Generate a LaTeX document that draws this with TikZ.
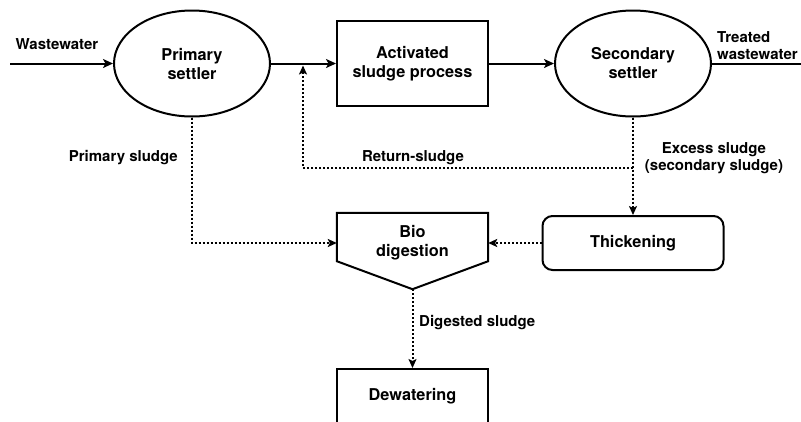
\documentclass[tikz,border=0pt]{standalone}
\usepackage{fontspec}
\setmainfont{TeX Gyre Heros}
\usetikzlibrary{shapes.geometric,arrows.meta,calc}
\begin{document}
\begin{tikzpicture}[x=1pt,y=-1pt,
  font=\bfseries\fontsize{16.3}{19}\selectfont,
  proc/.style={draw,line width=2pt,rectangle,minimum width=151pt,minimum height=85pt,align=center,inner sep=0pt},
  settler/.style={draw,line width=2pt,ellipse,minimum width=156pt,minimum height=106pt,align=center,inner sep=0pt},
  rbox/.style={draw,line width=2pt,rounded corners=10pt,minimum width=181pt,minimum height=54pt,align=center,inner sep=0pt},
  flow/.style={line width=2pt,-{Stealth[length=10pt,width=9pt,inset=2.5pt]}},
  sludge/.style={line width=2pt,dotted,-{Stealth[length=9pt,width=8pt,inset=2pt]}},
  lbl/.style={font=\bfseries\fontsize{15}{16.5}\selectfont,align=center,inner sep=0pt}
]
\useasboundingbox (0,0) rectangle (801,421);

\node[settler] (ps) at (192,63.5) {Primary\\settler};
\node[proc] (as) at (412.5,63.5) {Activated\\sludge process};
\node[settler] (ss) at (633,63.5) {Secondary\\settler};
\node[rbox] (th) at (633,243) {Thickening};
\node[minimum width=151pt,minimum height=60pt,inner sep=0pt,align=center] (bio) at (412.5,243) {Bio\\digestion};
\coordinate (biotip) at ($(bio.south)+(0,16)$);
\draw[line width=2pt] (bio.north west) -- (bio.north east) -- ($(bio.south east)+(0,-12)$) -- (biotip) -- ($(bio.south west)+(0,-12)$) -- cycle;
\node[proc,minimum height=54pt,anchor=north] (dw) at (412.5,368) {Dewatering};

\coordinate (win) at (10,63.5);
\coordinate (tout) at (801,63.5);
\coordinate (rs) at (633,168);
\coordinate (rj) at (303,65.5);

\draw[flow] (win) -- (ps.west);
\node[lbl] (lww) at (57,44) {Wastewater};
\draw[flow] (ps.east) -- (as.west);
\draw[flow] (as.east) -- (ss.west);
\draw[line width=2pt] (ss.east) -- (tout);
\node[lbl,align=left,anchor=west] (ltw) at (717,45.5) {Treated\\wastewater};

\draw[sludge] (rs) -| (rj);
\node[lbl] (lrs) at (413,158) {Return-sludge};
\draw[sludge] (ss.south) -- (th.north);
\node[lbl] (les) at (714,158) {Excess sludge\\(secondary sludge)};
\draw[sludge] (ps.south) |- (bio.west);
\node[lbl,anchor=east] (lps) at (178,158) {Primary sludge};
\draw[sludge] (th.west) -- (bio.east);
\draw[sludge] (biotip) -- (dw.north);
\node[lbl,anchor=west] (lds) at (419,323) {Digested sludge};
\end{tikzpicture}
\end{document}
